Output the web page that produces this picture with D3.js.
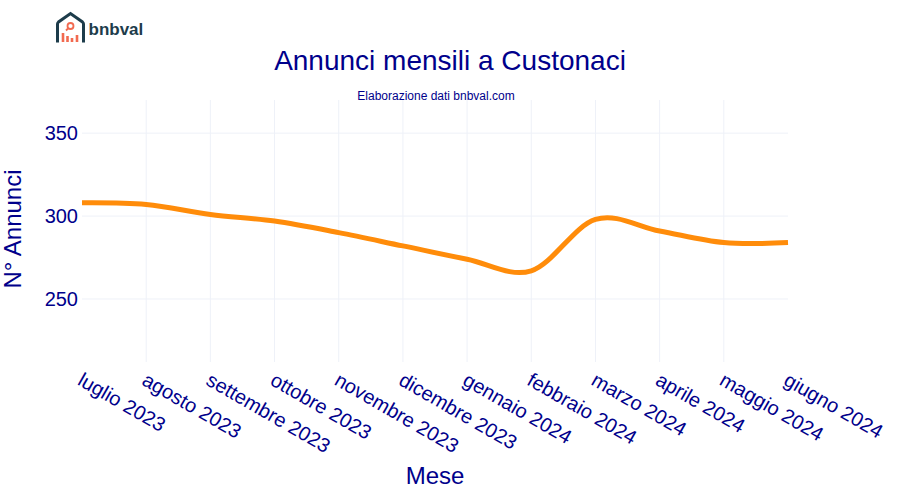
<!DOCTYPE html>
<html>
<head>
<meta charset="utf-8">
<script src="https://cdn.jsdelivr.net/npm/d3@7"></script>
<style>
  html, body { margin: 0; padding: 0; background: #fff; }
  text { font-family: "Liberation Sans", Arial, sans-serif; }
</style>
</head>
<body>
<svg id="chart" width="900" height="500"></svg>
<script>
const months = ["luglio 2023", "agosto 2023", "settembre 2023", "ottobre 2023", "novembre 2023", "dicembre 2023",
  "gennaio 2024", "febbraio 2024", "marzo 2024", "aprile 2024", "maggio 2024", "giugno 2024"];
const annunci = [308, 307, 301, 297, 290, 282, 274, 267, 298, 291, 284, 284];
const yTicks = [250, 300, 350];

const navy = "#00008b";
const gridColor = "#eef1f8";
const margin = { top: 100, right: 112, bottom: 138, left: 82 };
const width = 900 - margin.left - margin.right;
const height = 500 - margin.top - margin.bottom;

const svg = d3.select("#chart");
const g = svg.append("g").attr("transform", "translate(" + margin.left + "," + margin.top + ")");

const x = d3.scalePoint().domain(months).range([0, width]);
const y = d3.scaleLinear().domain([212, 370]).range([height, 0]);

// grid, no vertical line on the two outer months
g.append("g").selectAll("line").data(months.slice(1, -1)).join("line")
  .attr("x1", d => x(d)).attr("x2", d => x(d))
  .attr("y1", 0).attr("y2", height)
  .attr("stroke", gridColor).attr("stroke-width", 1);
g.append("g").selectAll("line").data(yTicks).join("line")
  .attr("x1", 0).attr("x2", width)
  .attr("y1", d => y(d)).attr("y2", d => y(d))
  .attr("stroke", gridColor).attr("stroke-width", 1);

// axes
const yAxis = g.append("g").call(d3.axisLeft(y).tickValues(yTicks).tickSize(0).tickPadding(4));
yAxis.select(".domain").remove();
yAxis.selectAll("text").attr("font-size", 20).attr("fill", navy)
  .style("font-family", '"Liberation Sans", Arial, sans-serif');

const xAxis = g.append("g").attr("transform", "translate(0," + height + ")")
  .call(d3.axisBottom(x).tickSize(0));
xAxis.select(".domain").remove();
xAxis.selectAll("text")
  .attr("font-size", 20).attr("fill", navy)
  .attr("text-anchor", "start")
  .attr("dy", null).attr("y", 0)
  .attr("transform", "translate(-6,22) rotate(30)")
  .style("font-family", '"Liberation Sans", Arial, sans-serif');

// line
const line = d3.line()
  .x((d, i) => x(months[i]))
  .y(d => y(d))
  .curve(d3.curveCardinal.tension(0));
g.append("path").datum(annunci)
  .attr("d", line)
  .attr("fill", "none")
  .attr("stroke", "#ff8c0a")
  .attr("stroke-width", 5);

// titles
svg.append("text").attr("x", 450).attr("y", 70).attr("text-anchor", "middle")
  .attr("font-size", 28).attr("fill", navy).text("Annunci mensili a Custonaci");
svg.append("text").attr("x", 436).attr("y", 100).attr("text-anchor", "middle")
  .attr("font-size", 12).attr("fill", navy).text("Elaborazione dati bnbval.com");
svg.append("text").attr("x", 435).attr("y", 484).attr("text-anchor", "middle")
  .attr("font-size", 24).attr("fill", navy).text("Mese");
svg.append("text").attr("transform", "translate(21,229) rotate(-90)").attr("text-anchor", "middle")
  .attr("font-size", 24).attr("fill", navy).text("N° Annunci");

// logo
const logo = svg.append("g");
logo.append("path")
  .attr("d", "M57.5 42.5 V24 Q57.5 23 58.5 22 L70.5 13.5 L82.5 22 Q83.5 23 83.5 24 V42.5")
  .attr("fill", "none").attr("stroke", "#1d3c4b").attr("stroke-width", 3);
logo.append("circle").attr("cx", 70.5).attr("cy", 26).attr("r", 3)
  .attr("fill", "none").attr("stroke", "#f26a50").attr("stroke-width", 1.8);
logo.append("path")
  .attr("d", "M68 28.5 L66 30.5").attr("stroke", "#f26a50").attr("stroke-width", 1.8);
logo.append("path")
  .attr("d", "M63 33 V42 M67.5 36 V42 M72 38 V42 M77 35 V42")
  .attr("stroke", "#f26a50").attr("stroke-width", 2.6);
logo.append("text").attr("x", 88.5).attr("y", 35).attr("font-size", 17).attr("font-weight", "bold")
  .attr("fill", "#1d3c4b").text("bnbval");
</script>
</body>
</html>
